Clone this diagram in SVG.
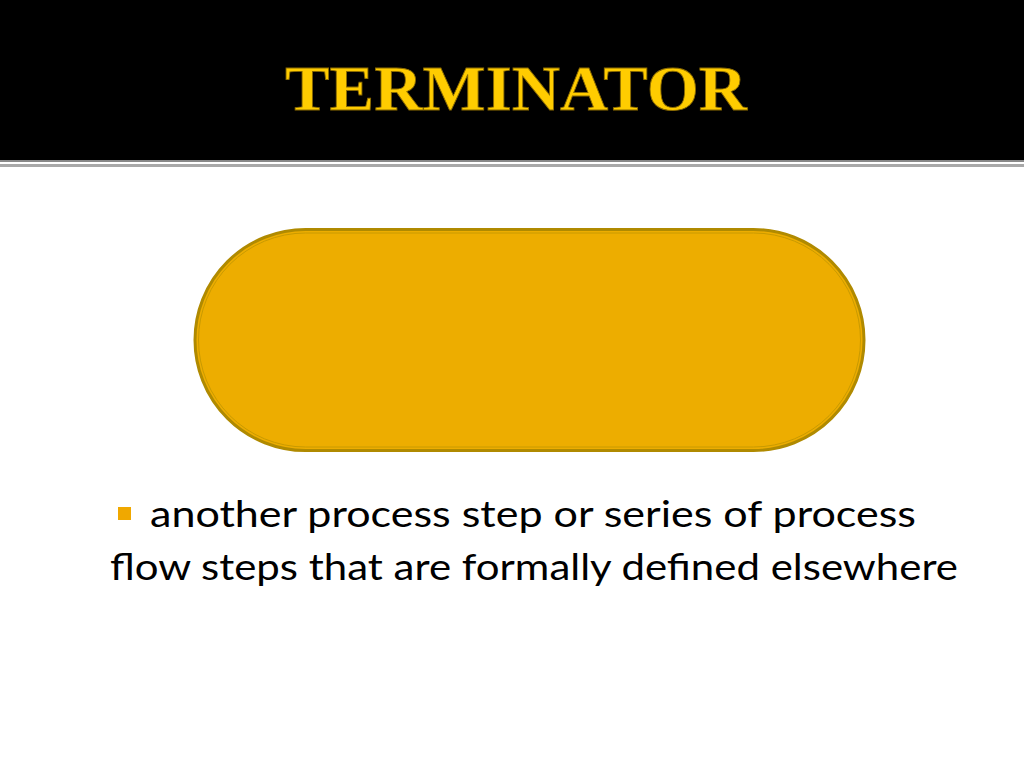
<svg xmlns="http://www.w3.org/2000/svg" width="1024" height="768" viewBox="0 0 1024 768">
<style>
.title{font-family:"Liberation Serif","DejaVu Serif",serif;font-weight:bold;font-size:64px;fill:#FFCC00;stroke:#8a6a00;stroke-width:0.8}
.body{font-family:Lato,"Open Sans","Liberation Sans",sans-serif;font-size:37px;fill:#000}
</style>
<rect x="0" y="0" width="1024" height="768" fill="#fff"/>
<g id="header">
<rect x="0" y="0" width="1024" height="160" fill="#000"/>
<rect x="0" y="160" width="1024" height="2" fill="#888"/>
<rect x="0" y="164" width="1024" height="3" fill="#a8a8a8"/>
<text x="516" y="110" text-anchor="middle" class="title" textLength="462" lengthAdjust="spacingAndGlyphs">TERMINATOR</text>
</g>
<g id="terminator">
<rect x="195" y="229.5" width="669" height="221" rx="110.5" ry="110.5" fill="#EDAD00" stroke="#B08A00" stroke-width="3"/>
<rect x="198.5" y="233" width="662" height="214" rx="107" ry="107" fill="none" stroke="#C99A00" stroke-width="1"/>
</g>
<g id="bullet">
<rect x="118" y="507" width="13" height="13" fill="#F0A800"/>
<text x="150" y="527" class="body" textLength="766" lengthAdjust="spacingAndGlyphs">another process step or series of process</text>
<text x="110" y="580" class="body" textLength="848" lengthAdjust="spacingAndGlyphs">flow steps that are formally defined elsewhere</text>
</g>
</svg>
